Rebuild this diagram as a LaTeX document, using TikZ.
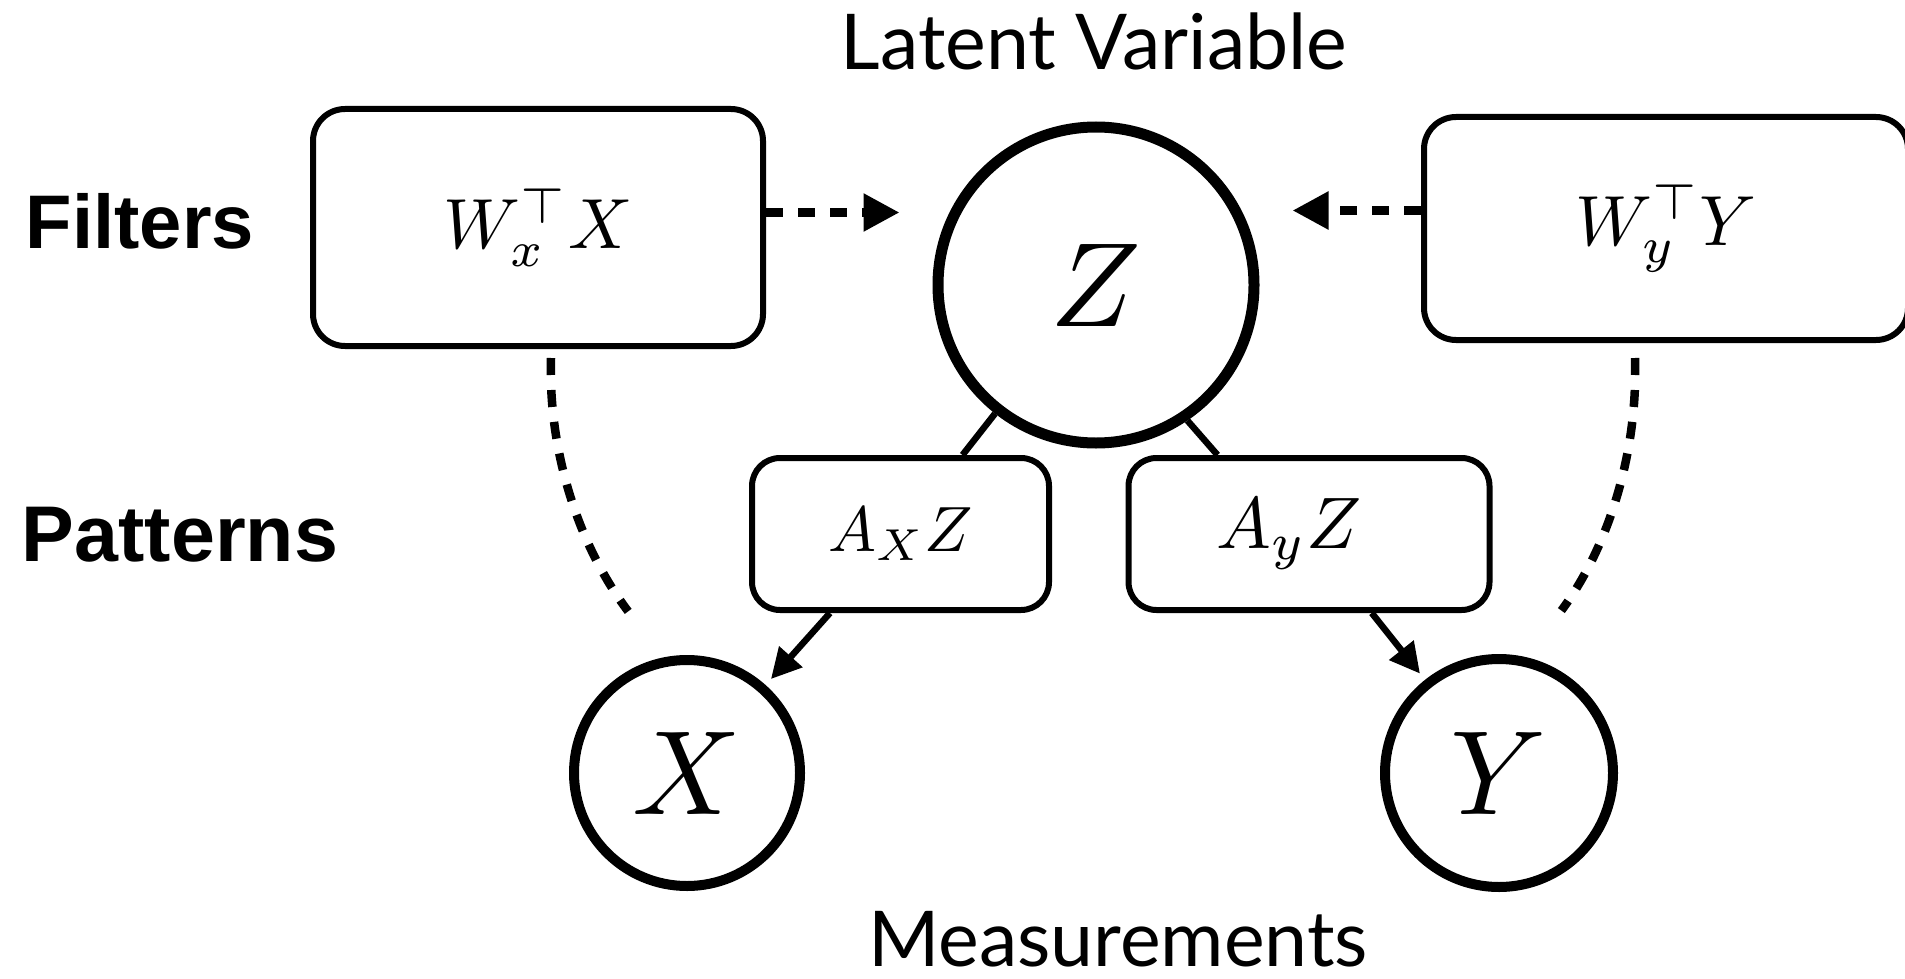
\documentclass[tikz,border=0pt]{standalone}
\usepackage{fontspec}
\usetikzlibrary{arrows.meta,calc}
\newfontfamily\capfont{Lato}
\newfontfamily\lblfont{Liberation Sans}
\newcommand{\mybigmath}[1]{\scalebox{12}{$#1$}}
\newcommand{\mymidmath}[1]{\scalebox{7.1}{$#1$}}
\newcommand{\mysmallmath}[1]{\scalebox{6.4}{$#1$}}
\newcommand{\mysmallmathb}[1]{\scalebox{7.3}{$#1$}}
\begin{document}
\begin{tikzpicture}[x=1pt,y=-1pt,
  nodebox/.style={draw,line width=6pt,rounded corners=32pt,inner sep=0pt},
  nodecirc/.style={draw,circle,line width=10pt,inner sep=0pt},
  solidconn/.style={line width=6.5pt},
  arrowtipped/.style={-{Triangle[length=30pt,width=30pt]}},
  bigtipped/.style={-{Triangle[length=36pt,width=36pt]}},
  dashconn/.style={line width=8.5pt,dash pattern=on 17pt off 15pt},
  captext/.style={font=\capfont\fontsize{77}{90}\selectfont,inner sep=0pt},
  labeltext/.style={font=\lblfont\bfseries\fontsize{76}{90}\selectfont},
]
\useasboundingbox (0,0) rectangle (1905,979);

% labels
\node[captext] (latent) at (1094,41) {Latent Variable};
\node[captext] (meas) at (1118,939) {Measurements};
\node[labeltext] (filters) at (140,221) {Filters};
\node[labeltext,font=\lblfont\bfseries\fontsize{79}{90}\selectfont] (patterns) at (180,535) {Patterns};

% nodes
\node[nodecirc,line width=11pt,minimum size=316pt] (Z) at (1096,285) {\mybigmath{Z}};
\node[nodecirc,minimum size=226pt] (X) at (687,773) {\mybigmath{X}};
\node[nodecirc,minimum size=228pt] (Y) at (1499,773) {\mybigmath{Y}};
\node[nodebox,minimum width=450pt,minimum height=237pt] (Wx) at (538,227.5) {\mymidmath{W_x^{\top}X}};
\node[nodebox,minimum width=484pt,minimum height=223pt] (Wy) at (1666,228.5) {\mymidmath{W_y^{\top}Y}};
\node[nodebox,rounded corners=28pt,minimum width=297pt,minimum height=152pt] (Ax) at (900.5,534) {\mysmallmath{A_XZ}};
\node[nodebox,rounded corners=28pt,minimum width=361pt,minimum height=152pt] (Ay) at (1309,534) {\mysmallmathb{A_yZ}\hspace*{40pt}};

% solid connectors
\draw[solidconn] (Z) -- (Ax);
\draw[solidconn] (Z.-56) -- ([xshift=92pt]Ay.north west);
\draw[solidconn,arrowtipped,shorten >=8pt] (Ax) -- (X);
\draw[solidconn,arrowtipped,shorten >=8pt] (Ay) -- (Y);

% dashed arrows
\draw[dashconn,bigtipped] ([yshift=15pt]Wx.east) -- ([yshift=15pt,xshift=-33pt]Wx.east -| Z.west);
\draw[dashconn,bigtipped] ([yshift=18pt]Wy.west) -- ([yshift=18pt,xshift=33pt]Wy.west -| Z.east);

% dashed curves
\coordinate (lc1) at ([xshift=13pt,yshift=-9pt]Wx.south);
\coordinate (lc2) at ($(X.center)+(110:172pt)$);
\draw[dashconn] (lc1) .. controls (548,450) and (578,545) .. (lc2);
\coordinate (rc1) at ([xshift=-31pt,yshift=-15pt]Wy.south);
\coordinate (rc2) at ($(Y.center)+(69:174pt)$);
\draw[dashconn] (rc1) .. controls (1638,450) and (1610,545) .. (rc2);
\end{tikzpicture}
\end{document}
